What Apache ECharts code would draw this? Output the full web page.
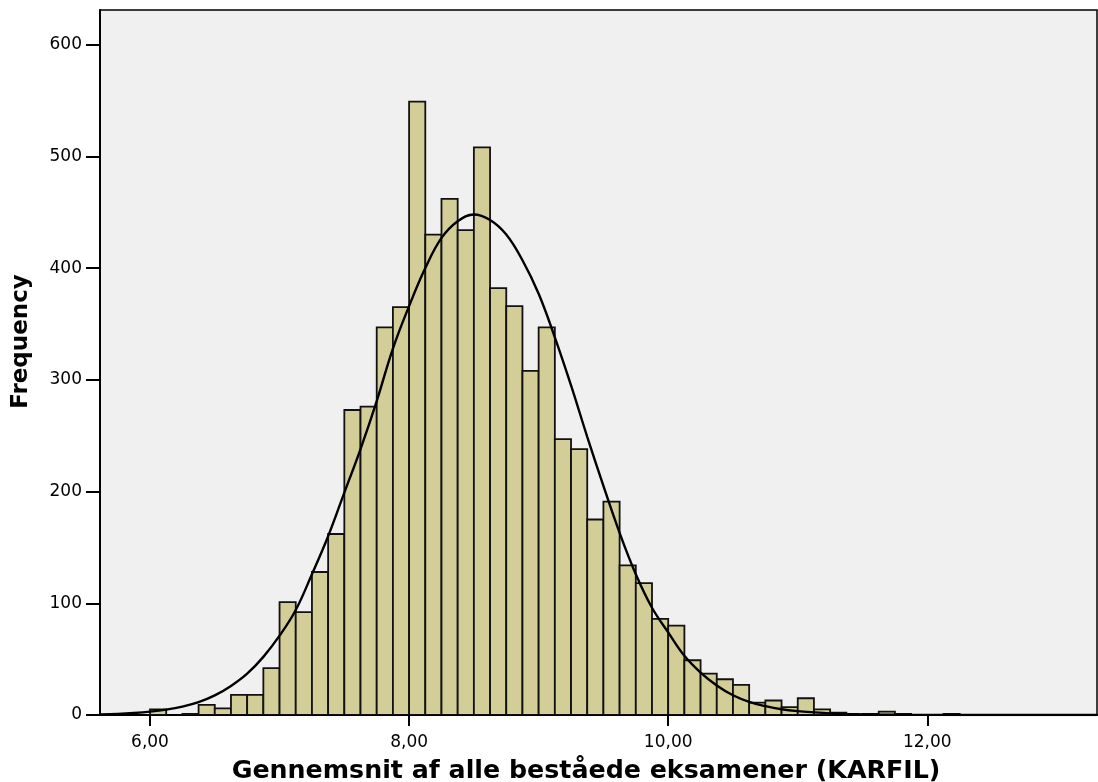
<!DOCTYPE html>
<html>
<head>
<meta charset="utf-8">
<script src="https://cdn.jsdelivr.net/npm/echarts@6/dist/echarts.min.js"></script>
<style>
html,body{margin:0;padding:0;background:#fff;}
#chart{width:1098px;height:782px;}
</style>
</head>
<body>
<div id="chart"></div>
<script>
// Histogram bins (lower edge) and frequencies
const binWidth = 0.125;
const binLow = [6.0, 6.25, 6.375, 6.5, 6.625, 6.75, 6.875, 7.0, 7.125, 7.25, 7.375, 7.5, 7.625, 7.75, 7.875,
  8.0, 8.125, 8.25, 8.375, 8.5, 8.625, 8.75, 8.875, 9.0, 9.125, 9.25, 9.375, 9.5, 9.625, 9.75, 9.875,
  10.0, 10.125, 10.25, 10.375, 10.5, 10.625, 10.75, 10.875, 11.0, 11.125, 11.25, 11.5, 11.625, 11.75, 12.125];
const counts = [5, 1, 9, 6, 18, 18, 42, 101, 92, 128, 162, 273, 276, 347, 365,
  549, 430, 462, 434, 508, 382, 366, 308, 347, 247, 238, 175, 191, 134, 118, 86,
  80, 49, 37, 32, 27, 11, 13, 7, 15, 5, 2, 1, 3, 1, 1];

// Fitted normal curve
const curveX = [5.614, 5.75, 5.875, 6.0, 6.125, 6.25, 6.375, 6.5, 6.625, 6.75, 6.875, 7.0, 7.125, 7.25, 7.375,
  7.5, 7.625, 7.75, 7.875, 8.0, 8.125, 8.25, 8.375, 8.5, 8.625, 8.75, 8.875, 9.0, 9.125, 9.25,
  9.375, 9.5, 9.625, 9.75, 9.875, 10.0, 10.125, 10.25, 10.375, 10.5, 10.625, 10.75, 10.875, 11.0, 11.25,
  11.5, 11.75, 12.0, 12.5, 13.31];
const curveY = [0.5, 1.0, 1.8, 3.0, 4.8, 7.5, 11.5, 17.5, 26, 37, 52, 71, 94, 126, 160,
  199, 238, 281, 328, 366, 400, 427, 442, 448, 443, 430, 407, 377, 338, 295,
  249, 205, 163, 126, 96, 74, 53, 38, 26.5, 17.7, 11.8, 7.9, 5.1, 3.5, 1.5,
  0.6, 0.25, 0.1, 0, 0];

// Axis ticks
const xTicks = [6, 8, 10, 12];
const yTicks = [0, 100, 200, 300, 400, 500, 600];

const xTitle = 'Gennemsnit af alle beståede eksamener (KARFIL)';
const yTitle = 'Frequency';

const histData = binLow.map((b, i) => [b, b + binWidth, counts[i]]);
const curveData = curveX.map((x, i) => [x, curveY[i]]);

const chart = echarts.init(document.getElementById('chart'), null, {renderer: 'canvas'});
const FONT = 'DejaVu Sans';
chart.setOption({
  animation: false,
  backgroundColor: '#ffffff',
  grid: {
    left: 100, top: 10, right: 1, bottom: 67,
    outerBoundsMode: 'none', containLabel: false,
    show: true, backgroundColor: '#F0F0F0', borderColor: '#000', borderWidth: 1.5
  },
  xAxis: {
    type: 'value', min: 5.614, max: 13.31,
    splitLine: {show: false},
    axisLine: {show: true, onZero: false, lineStyle: {color: '#000', width: 2}},
    axisTick: {show: true, length: 11, lineStyle: {color: '#000', width: 2}, customValues: xTicks},
    axisLabel: {
      customValues: xTicks, margin: 19, color: '#000', fontFamily: FONT, fontSize: 17,
      formatter: v => v.toFixed(2).replace('.', ',')
    },
    name: xTitle, nameLocation: 'middle', nameGap: 44,
    nameTextStyle: {color: '#000', fontFamily: FONT, fontWeight: 'bold', fontSize: 25.3, padding: [0, 25, 0, 0]}
  },
  yAxis: {
    type: 'value', min: 0, max: 631,
    splitLine: {show: false},
    axisLine: {show: true, lineStyle: {color: '#000', width: 2}},
    axisTick: {show: true, length: 14, lineStyle: {color: '#000', width: 2}, customValues: yTicks},
    axisLabel: {
      customValues: yTicks, margin: 18, color: '#000', fontFamily: FONT, fontSize: 17
    },
    name: yTitle, nameLocation: 'middle', nameGap: 67, nameRotate: 90,
    nameTextStyle: {color: '#000', fontFamily: FONT, fontWeight: 'bold', fontSize: 23, padding: [0, 0, 0, 42]}
  },
  series: [
    {
      type: 'custom',
      data: histData,
      encode: {x: [0, 1], y: 2},
      clip: true,
      renderItem: function (params, api) {
        const p0 = api.coord([api.value(0), api.value(2)]);
        const p1 = api.coord([api.value(1), 0]);
        return {
          type: 'rect',
          shape: {x: p0[0], y: p0[1], width: p1[0] - p0[0], height: p1[1] - p0[1]},
          style: {fill: '#D3CE97', stroke: '#111', lineWidth: 1.8}
        };
      }
    },
    {
      type: 'line',
      data: curveData,
      smooth: 0.4,
      showSymbol: false,
      symbol: 'none',
      lineStyle: {color: '#000', width: 2.4},
      z: 5
    }
  ]
});
</script>
</body>
</html>
